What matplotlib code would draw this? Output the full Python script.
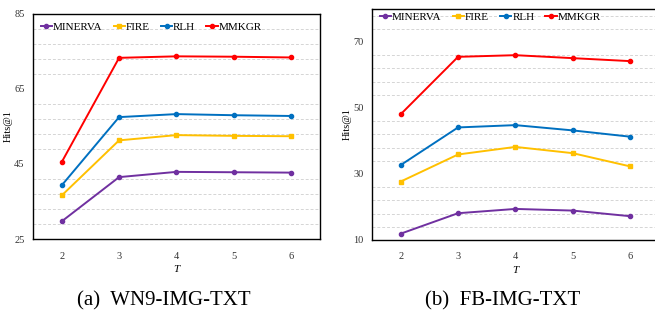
import numpy as np
import matplotlib.pyplot as plt

plt.rcParams['font.family'] = ['Liberation Serif', 'DejaVu Serif']

T = [2, 3, 4, 5, 6]
methods = ['MINERVA', 'FIRE', 'RLH', 'MMKGR']
colors = ['#7030A0', '#FFC000', '#0070C0', '#FF0000']
markers = ['o', 's', 'o', 'o']

# WN9-IMG-TXT
wn9_minerva = [29.7, 41.5, 42.9, 42.8, 42.7]
wn9_fire = [36.6, 51.3, 52.7, 52.5, 52.4]
wn9_rlh = [39.3, 57.5, 58.3, 58.0, 57.8]
wn9_mmkgr = [45.5, 73.3, 73.7, 73.6, 73.4]

# FB-IMG-TXT
fb_minerva = [11.9, 18.1, 19.4, 18.9, 17.2]
fb_fire = [27.7, 35.9, 38.2, 36.3, 32.3]
fb_rlh = [32.7, 44.1, 44.8, 43.2, 41.3]
fb_mmkgr = [48.1, 65.5, 66.0, 65.1, 64.2]

fig = plt.figure(figsize=(6.55, 3.10), dpi=100)
ax1 = fig.add_axes([0.0504, 0.229, 0.438, 0.726])
ax2 = fig.add_axes([0.568, 0.226, 0.4377, 0.745])


def draw(ax, series, ylo, yhi, legend_y):
    for vals, name, c, m in zip(series, methods, colors, markers):
        ax.plot(T, vals, color=c, marker=m, markersize=3, linewidth=1.4, label=name)
    ax.set_xlim(1.5, 6.5)
    ax.set_ylim(ylo, yhi)
    ax.set_yticks(np.arange(ylo, yhi + 1, 20))
    ax.set_yticks(np.arange(ylo, yhi + 1, 4), minor=True)
    ax.set_xticks(T)
    ax.grid(True, which='minor', axis='y', color='#d5d5d5', linestyle=(0, (3, 2)), linewidth=0.7)
    ax.set_axisbelow(True)
    ax.tick_params(which='both', length=0, labelsize=7.5, colors='#333333')
    ax.tick_params(axis='x', pad=9)
    ax.tick_params(axis='y', pad=6)
    for s in ax.spines.values():
        s.set_color('black')
        s.set_linewidth(1.0)
    ax.set_xlabel('T', fontstyle='italic', fontsize=8, labelpad=3)
    ax.set_ylabel('Hits@1', fontsize=7.5)
    ax.yaxis.set_label_coords(-0.072, 0.5)
    ax.legend(loc='upper left', bbox_to_anchor=(0.0, legend_y), ncol=4, frameon=False,
              fontsize=8, handlelength=1.0, handletextpad=0.1, columnspacing=1.0,
              borderaxespad=0.3)


draw(ax1, [wn9_minerva, wn9_fire, wn9_rlh, wn9_mmkgr], 25, 85, 1.0)
draw(ax2, [fb_minerva, fb_fire, fb_rlh, fb_mmkgr], 10, 80, 1.02)

fig.text(0.25, 0.015, '(a)  WN9-IMG-TXT', ha='center', fontsize=15)
fig.text(0.768, 0.015, '(b)  FB-IMG-TXT', ha='center', fontsize=15)

fig.savefig('out.png', dpi=100)
